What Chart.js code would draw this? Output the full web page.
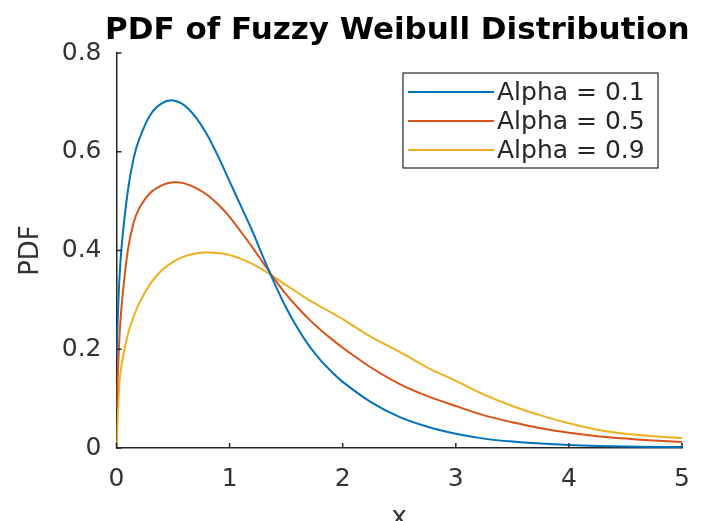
<!DOCTYPE html>
<html>
<head>
<meta charset="utf-8">
<script src="https://cdn.jsdelivr.net/npm/chart.js@4.4.0/dist/chart.umd.min.js"></script>
<style>
  html, body { margin: 0; padding: 0; background: #fff; }
  #wrap { width: 721px; height: 521px; }
</style>
</head>
<body>
<div id="wrap"><canvas id="pdfChart" width="721" height="521"></canvas></div>
<script>
// valores
const xValues = [0, 0.025, 0.05, 0.1, 0.15, 0.2, 0.3, 0.4, 0.5, 0.6, 0.7, 0.8, 0.9, 1.0, 1.1, 1.2, 1.3, 1.4, 1.5,
                 1.6, 1.7, 1.8, 1.9, 2.0, 2.25, 2.5, 2.75, 3.0, 3.25, 3.5, 3.75, 4.0, 4.25, 4.5, 4.75, 5.0];
const alpha01 = [0.19, 0.34, 0.42, 0.52, 0.585, 0.625, 0.675, 0.698, 0.704, 0.694, 0.67, 0.635, 0.59, 0.54, 0.49, 0.44,
                 0.385, 0.332, 0.284, 0.243, 0.208, 0.179, 0.155, 0.134, 0.093, 0.063, 0.043, 0.029, 0.019, 0.013, 0.009,
                 0.006, 0.004, 0.003, 0.002, 0.002];
const alpha05 = [0.08, 0.22, 0.3, 0.4, 0.455, 0.485, 0.517, 0.532, 0.538, 0.536, 0.527, 0.513, 0.493, 0.468, 0.438, 0.407,
                 0.374, 0.341, 0.311, 0.285, 0.261, 0.24, 0.221, 0.203, 0.163, 0.13, 0.105, 0.085, 0.066, 0.052, 0.04,
                 0.031, 0.024, 0.019, 0.015, 0.012];
const alpha09 = [0, 0.13, 0.175, 0.23, 0.265, 0.293, 0.333, 0.36, 0.377, 0.388, 0.394, 0.396, 0.395, 0.391, 0.383, 0.373,
                 0.36, 0.345, 0.33, 0.315, 0.3, 0.287, 0.274, 0.261, 0.225, 0.195, 0.163, 0.136, 0.108, 0.085, 0.066,
                 0.05, 0.037, 0.029, 0.024, 0.02];
const seriesLabels = ['Alpha = 0.1', 'Alpha = 0.5', 'Alpha = 0.9'];
const xTicks = [0, 1, 2, 3, 4, 5];
const yTicks = [0, 0.2, 0.4, 0.6, 0.8];
const chartTitle = 'PDF of Fuzzy Weibull Distribution';

const colors = ['#0072BD', '#D95319', '#EDB120'];
const axisColor = '#262626';
const FONT = "'DejaVu Sans', sans-serif";

function toPoints(ys) {
    return xValues.map((x, i) => ({ x: x, y: ys[i] }));
}

// título centrado sobre el área del gráfico
const plotTitle = {
    id: 'plotTitle',
    afterDraw(chart) {
        const ctx = chart.ctx;
        const area = chart.chartArea;
        ctx.save();
        ctx.fillStyle = '#000';
        ctx.font = 'bold 31px ' + FONT;
        ctx.textAlign = 'center';
        ctx.textBaseline = 'alphabetic';
        ctx.fillText(chartTitle, (area.left + area.right) / 2 - 2, 39);
        ctx.restore();
    }
};

// ticks hacia dentro, como en MATLAB
const innerTicks = {
    id: 'innerTicks',
    afterDatasetsDraw(chart) {
        const ctx = chart.ctx;
        const xs = chart.scales.x, ys = chart.scales.y;
        const area = chart.chartArea;
        ctx.save();
        ctx.strokeStyle = axisColor;
        ctx.lineWidth = 1.5;
        ctx.beginPath();
        xTicks.forEach(v => {
            const px = xs.getPixelForValue(v);
            ctx.moveTo(px, area.bottom);
            ctx.lineTo(px, area.bottom - 5);
        });
        yTicks.forEach(v => {
            const py = ys.getPixelForValue(v);
            ctx.moveTo(area.left, py);
            ctx.lineTo(area.left + 5, py);
        });
        ctx.stroke();
        ctx.restore();
    }
};

// leyenda con recuadro
const boxLegend = {
    id: 'boxLegend',
    afterDraw(chart) {
        const ctx = chart.ctx;
        const left = 403, top = 73, w = 255, h = 95;
        const rows = [92, 121, 150];
        ctx.save();
        ctx.fillStyle = '#fff';
        ctx.fillRect(left, top, w, h);
        ctx.strokeStyle = axisColor;
        ctx.lineWidth = 1.2;
        ctx.strokeRect(left, top, w, h);
        ctx.font = '25px ' + FONT;
        ctx.textBaseline = 'middle';
        chart.data.datasets.forEach((ds, i) => {
            ctx.strokeStyle = ds.borderColor;
            ctx.lineWidth = 2;
            ctx.beginPath();
            ctx.moveTo(408, rows[i]);
            ctx.lineTo(494, rows[i]);
            ctx.stroke();
            ctx.fillStyle = '#262626';
            ctx.fillText(ds.label, 497, rows[i] + 1);
        });
        ctx.restore();
    }
};

const ctx = document.getElementById('pdfChart').getContext('2d');
new Chart(ctx, {
    type: 'line',
    data: {
        datasets: [
            { label: seriesLabels[0], data: toPoints(alpha01), borderColor: colors[0] },
            { label: seriesLabels[1], data: toPoints(alpha05), borderColor: colors[1] },
            { label: seriesLabels[2], data: toPoints(alpha09), borderColor: colors[2] }
        ].map(d => Object.assign(d, {
            borderWidth: 2,
            pointRadius: 0,
            fill: false,
            tension: 0.3
        }))
    },
    options: {
        responsive: false,
        animation: false,
        layout: { padding: { left: 0, right: 39, top: 53, bottom: 0 } },
        plugins: {
            legend: { display: false },
            tooltip: { enabled: false },
            title: { display: false }
        },
        scales: {
            x: {
                type: 'linear',
                min: 0, max: 5,
                afterBuildTicks: s => { s.ticks = xTicks.map(v => ({ value: v })); },
                afterFit: s => { s.height = 73; },
                grid: { display: true, drawOnChartArea: false, drawTicks: false },
                border: { display: true, color: axisColor, width: 1.5 },
                ticks: {
                    color: '#333',
                    font: { family: FONT, size: 25 },
                    padding: 16,
                    maxRotation: 0
                },
                title: {
                    display: true,
                    text: 'x',
                    color: '#333',
                    font: { family: FONT, size: 26 },
                    padding: { top: 0, bottom: -13 }
                }
            },
            y: {
                min: 0, max: 0.8,
                afterBuildTicks: s => { s.ticks = yTicks.map(v => ({ value: v })); },
                afterFit: s => { s.width = 116.5; },
                grid: { display: true, drawOnChartArea: false, drawTicks: false },
                border: { display: true, color: axisColor, width: 1.5 },
                ticks: {
                    color: '#333',
                    font: { family: FONT, size: 25 },
                    padding: 15,
                    callback: v => (v === 0 ? '0' : v.toFixed(1))
                },
                title: {
                    display: true,
                    text: 'PDF',
                    color: '#333',
                    font: { family: FONT, size: 26 },
                    padding: { top: 16, bottom: 0 }
                }
            }
        }
    },
    plugins: [innerTicks, boxLegend, plotTitle]
});
</script>
</body>
</html>
